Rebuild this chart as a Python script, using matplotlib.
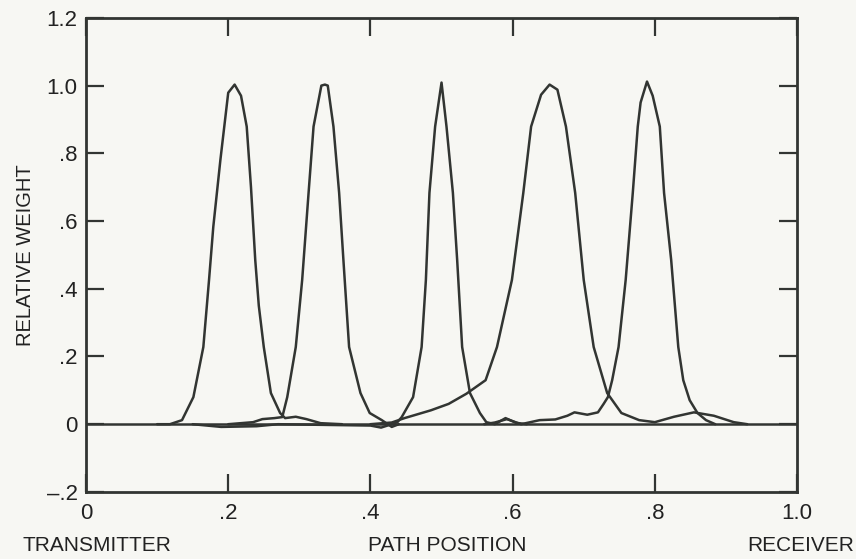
import matplotlib.pyplot as plt

# weighting functions along the path, one per sample point
p1_x = [0.100, 0.118, 0.135, 0.151, 0.165, 0.173, 0.179, 0.189, 0.200, 0.209, 0.218, 0.226, 0.232,
        0.238, 0.243, 0.250, 0.260, 0.273, 0.280, 0.295, 0.310, 0.330, 0.360]
p1_y = [0.0, 0.0, 0.012, 0.080, 0.228, 0.426, 0.583, 0.781, 0.979, 1.003, 0.970, 0.879, 0.700,
        0.485, 0.350, 0.228, 0.092, 0.033, 0.018, 0.022, 0.015, 0.003, 0.0]

p2_x = [0.200, 0.235, 0.248, 0.265, 0.276, 0.283, 0.295, 0.304, 0.313, 0.320, 0.331, 0.336, 0.340,
        0.348, 0.356, 0.362, 0.370, 0.386, 0.399, 0.416, 0.430, 0.440]
p2_y = [0.0, 0.006, 0.015, 0.018, 0.021, 0.080, 0.228, 0.426, 0.683, 0.879, 1.000, 1.003, 1.000,
        0.879, 0.683, 0.485, 0.228, 0.092, 0.033, 0.012, -0.008, 0.0]

p3_x = [0.150, 0.190, 0.240, 0.270, 0.400, 0.415, 0.430, 0.438, 0.444, 0.460, 0.472, 0.478, 0.483,
        0.491, 0.500, 0.507, 0.516, 0.522, 0.529, 0.540, 0.554, 0.563, 0.575, 0.590, 0.605, 0.620]
p3_y = [0.0, -0.008, -0.006, 0.0, -0.004, -0.010, 0.0, 0.006, 0.021, 0.080, 0.228, 0.426, 0.683,
        0.879, 1.009, 0.879, 0.683, 0.485, 0.228, 0.092, 0.033, 0.006, 0.0, 0.018, 0.004, 0.0]

p4_x = [0.400, 0.430, 0.448, 0.485, 0.510, 0.535, 0.562, 0.578, 0.599, 0.615, 0.626, 0.640, 0.652,
        0.663, 0.675, 0.688, 0.700, 0.714, 0.733, 0.753, 0.778, 0.800, 0.827, 0.855, 0.883, 0.911, 0.930]
p4_y = [0.0, 0.005, 0.018, 0.041, 0.060, 0.090, 0.130, 0.228, 0.426, 0.683, 0.879, 0.973, 1.003,
        0.988, 0.879, 0.683, 0.426, 0.228, 0.092, 0.033, 0.012, 0.006, 0.022, 0.035, 0.025, 0.006, 0.0]

p5_x = [0.560, 0.575, 0.592, 0.612, 0.638, 0.660, 0.677, 0.687, 0.705, 0.720, 0.728, 0.734, 0.740,
        0.749, 0.759, 0.769, 0.776, 0.780, 0.789, 0.797, 0.807, 0.813, 0.823, 0.833, 0.840, 0.849,
        0.860, 0.872, 0.885]
p5_y = [0.0, 0.005, 0.015, 0.0, 0.012, 0.014, 0.025, 0.035, 0.028, 0.035, 0.060, 0.080, 0.130,
        0.228, 0.426, 0.683, 0.879, 0.950, 1.012, 0.970, 0.879, 0.683, 0.485, 0.228, 0.130, 0.071,
        0.033, 0.012, 0.0]

curves = [(p1_x, p1_y), (p2_x, p2_y), (p3_x, p3_y), (p4_x, p4_y), (p5_x, p5_y)]

x_ticks = [0, 0.2, 0.4, 0.6, 0.8, 1.0]
x_labels = ["0", ".2", ".4", ".6", ".8", "1.0"]
y_ticks = [-0.2, 0, 0.2, 0.4, 0.6, 0.8, 1.0, 1.2]
y_labels = ["\u2013.2", "0", ".2", ".4", ".6", ".8", "1.0", "1.2"]

ink = "#323532"
text_ink = "#222222"
paper = "#f7f7f3"
plt.rcParams["font.family"] = ["Liberation Sans", "DejaVu Sans"]

fig = plt.figure(figsize=(8.56, 5.59), dpi=100, facecolor=paper)
ax = fig.add_axes([0.1005, 0.12, 0.8306, 0.848])
ax.set_facecolor(paper)

ax.axhline(0, color=ink, lw=1.8)
for cx, cy in curves:
    ax.plot(cx, cy, color=ink, lw=1.8, solid_joinstyle="round", solid_capstyle="round")

ax.set_xlim(0, 1.0)
ax.set_ylim(-0.2, 1.2)
ax.set_xticks(x_ticks)
ax.set_xticklabels(x_labels)
ax.set_yticks(y_ticks)
ax.set_yticklabels(y_labels)
ax.tick_params(direction="in", top=True, right=True, length=13, width=1.6,
               color=ink, labelcolor=text_ink, labelsize=16)
ax.tick_params(axis="x", pad=8)
ax.tick_params(axis="y", pad=6)
for s in ax.spines.values():
    s.set_color(ink)
    s.set_linewidth(2.0)

fig.text(0.030, 0.544, "RELATIVE WEIGHT", rotation=90, ha="center", va="center",
         fontsize=14.5, color=text_ink)
fig.text(0.026, 0.025, "TRANSMITTER", ha="left", va="center", fontsize=15, color=text_ink)
fig.text(0.522, 0.025, "PATH POSITION", ha="center", va="center", fontsize=15, color=text_ink)
fig.text(0.998, 0.025, "RECEIVER", ha="right", va="center", fontsize=15, color=text_ink)

fig.savefig("out.png", dpi=100, facecolor=paper)
